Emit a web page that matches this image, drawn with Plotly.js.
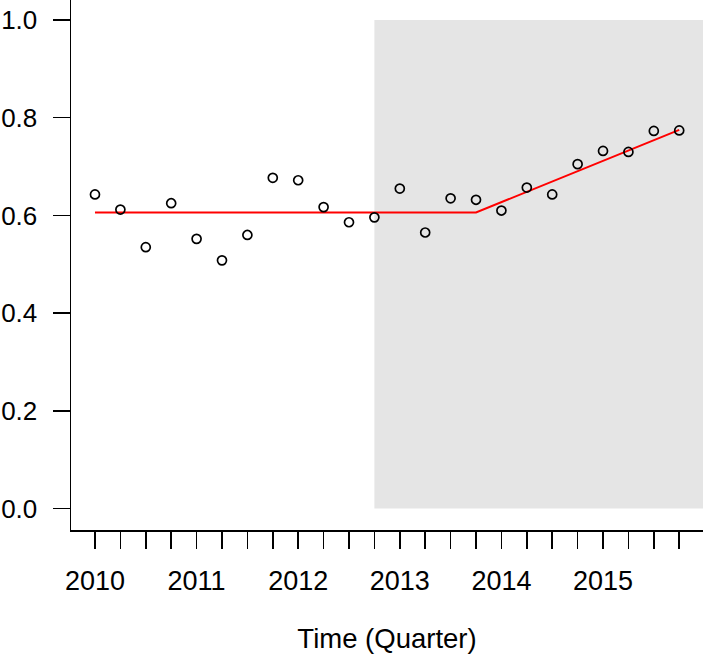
<!DOCTYPE html>
<html>
<head>
<meta charset="utf-8">
<script src="https://cdn.plot.ly/plotly-3.0.1.min.js"></script>
<style>
  html, body { margin: 0; padding: 0; background: #fff; }
  #plot { width: 703px; height: 664px; }
</style>
</head>
<body>
<div id="plot"></div>
<script>
'use strict'
// quarterly observations
let quarters = [2010, 2010.25, 2010.5, 2010.75, 2011, 2011.25, 2011.5, 2011.75,
  2012, 2012.25, 2012.5, 2012.75, 2013, 2013.25, 2013.5, 2013.75,
  2014, 2014.25, 2014.5, 2014.75, 2015, 2015.25, 2015.5, 2015.75];
let observed = [0.643, 0.612, 0.535, 0.625, 0.552, 0.508, 0.560, 0.677,
  0.672, 0.617, 0.586, 0.596, 0.655, 0.565, 0.635, 0.632,
  0.610, 0.657, 0.643, 0.705, 0.732, 0.730, 0.773, 0.774];

// fitted segmented line (knots)
let fitX = [2010, 2013.75, 2015.75];
let fitY = [0.606, 0.606, 0.775];

// shaded period
let shadeStart = 2012.75;
let shadeEnd = 2016;

// axis labels
let yTicks = [0, 0.2, 0.4, 0.6, 0.8, 1.0];
let yTickText = ['0.0', '0.2', '0.4', '0.6', '0.8', '1.0'];
let xTickText = quarters.map(q => (q % 1 === 0 ? String(q) : ''));

let font = {family: 'Arial, "Liberation Sans", sans-serif', size: 27, color: '#000'};

let traces = [
  {
    x: fitX, y: fitY, type: 'scatter', mode: 'lines',
    line: {color: '#ff0000', width: 2}, hoverinfo: 'skip'
  },
  {
    x: quarters, y: observed, type: 'scatter', mode: 'markers',
    marker: {symbol: 'circle-open', size: 9, color: '#000', line: {width: 1.7, color: '#000'}}
  }
];

let layout = {
  width: 703, height: 664,
  margin: {l: 71, r: 0, t: 0, b: 134},
  showlegend: false,
  paper_bgcolor: '#fff', plot_bgcolor: '#fff',
  font: font,
  xaxis: {
    range: [2009.764, 2015.984],
    tickmode: 'array', tickvals: quarters, ticktext: xTickText,
    ticks: 'outside', ticklen: 17, tickwidth: 1.5, tickcolor: '#000',
    showline: true, linecolor: '#000', linewidth: 1.5,
    showgrid: false, zeroline: false,
    ticklabelstandoff: 9,
    tickfont: font,
    title: {text: 'Time (Quarter)', font: {family: font.family, size: 27.5, color: '#000'}, standoff: 34}
  },
  yaxis: {
    range: [-0.044, 1.041],
    tickmode: 'array', tickvals: yTicks, ticktext: yTickText,
    ticks: 'outside', ticklen: 17, tickwidth: 1.5, tickcolor: '#000',
    showline: true, linecolor: '#000', linewidth: 1.5,
    showgrid: false, zeroline: false,
    ticklabelstandoff: 10,
    tickfont: {family: font.family, size: 26, color: '#000'}
  },
  shapes: [{
    type: 'rect', layer: 'below', xref: 'x', yref: 'y',
    x0: shadeStart, x1: shadeEnd, y0: 0, y1: 1,
    fillcolor: '#e5e5e5', line: {width: 0}
  }]
};

Plotly.newPlot('plot', traces, layout, {displayModeBar: false, staticPlot: true});
</script>
</body>
</html>
